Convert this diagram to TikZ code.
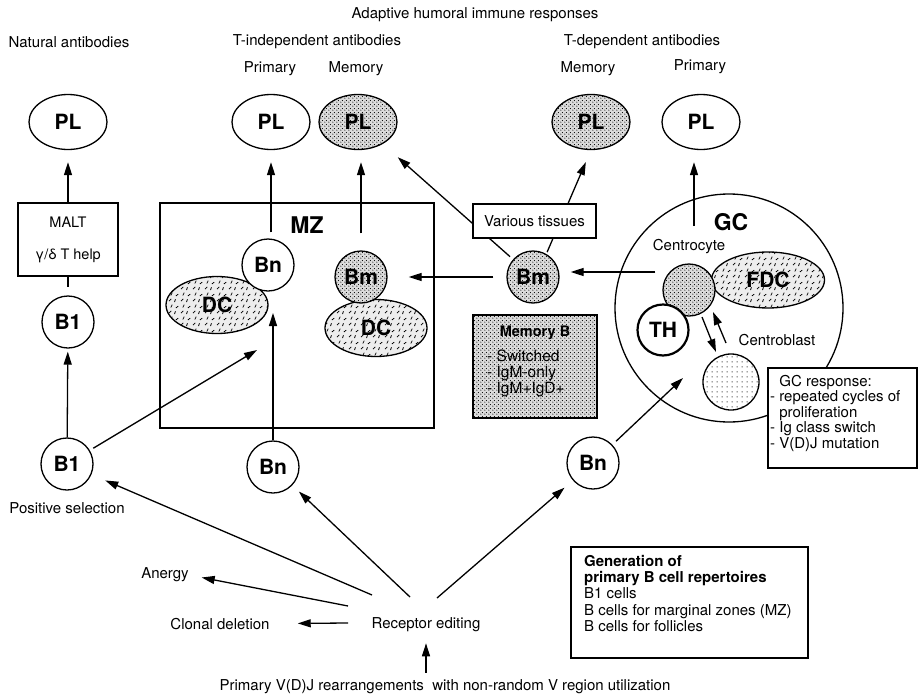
\documentclass[tikz,border=0pt]{standalone}
\usepackage{fontspec}
\setmainfont{TeX Gyre Heros}
\usetikzlibrary{arrows.meta,shapes.geometric,patterns,calc}
\pgfdeclarepatternformonly{stip}{\pgfqpoint{0pt}{0pt}}{\pgfqpoint{4pt}{4pt}}{\pgfqpoint{4pt}{4pt}}{%
  \pgfpathcircle{\pgfqpoint{1pt}{1pt}}{0.65pt}%
  \pgfpathcircle{\pgfqpoint{3pt}{3pt}}{0.65pt}%
  \pgfusepath{fill}}
\pgfdeclarepatternformonly{sparse}{\pgfqpoint{0pt}{0pt}}{\pgfqpoint{5pt}{5pt}}{\pgfqpoint{5pt}{5pt}}{%
  \pgfpathcircle{\pgfqpoint{2.5pt}{2.5pt}}{0.65pt}%
  \pgfusepath{fill}}
\pgfdeclarepatternformonly{dcmarks}{\pgfqpoint{0pt}{0pt}}{\pgfqpoint{12pt}{12pt}}{\pgfqpoint{12pt}{12pt}}{%
  \pgfsetlinewidth{0.8pt}%
  \pgfpathmoveto{\pgfqpoint{1pt}{2pt}}\pgfpathlineto{\pgfqpoint{3.5pt}{4.5pt}}%
  \pgfpathmoveto{\pgfqpoint{7pt}{1pt}}\pgfpathlineto{\pgfqpoint{8pt}{4pt}}%
  \pgfpathmoveto{\pgfqpoint{3pt}{8pt}}\pgfpathlineto{\pgfqpoint{4.5pt}{11pt}}%
  \pgfpathmoveto{\pgfqpoint{8.5pt}{7.5pt}}\pgfpathlineto{\pgfqpoint{11pt}{9.5pt}}%
  \pgfusepath{stroke}}
\begin{document}
\begin{tikzpicture}[x=1pt,y=-1pt,
  lbl/.style={inner sep=0, font=\fontsize{15}{17}\selectfont},
  bigbold/.style={inner sep=0, font=\bfseries\fontsize{23}{23}\selectfont},
  cell/.style={circle, draw, line width=1.3pt, minimum size=52, inner sep=0, font=\bfseries\fontsize{21}{21}\selectfont},
  plell/.style={ellipse, draw, line width=1.3pt, minimum width=78, minimum height=55, inner sep=0, font=\bfseries\fontsize{21}{21}\selectfont},
  shade/.style={preaction={fill=gray!28}, pattern=stip},
  white/.style={fill=white},
  dcell/.style={ellipse, draw, line width=1.3pt, minimum width=102, minimum height=57, inner sep=0, preaction={fill=gray!14}, pattern=dcmarks, font=\bfseries\fontsize{21}{21}\selectfont},
  boxed/.style={draw, line width=1.3pt, inner sep=0},
  ln/.style={line width=1.3pt},
  arr/.style={line width=1.3pt, -{Triangle[length=13pt,width=8pt]}}]
\useasboundingbox (0,0) rectangle (918,699);
\fill[white] (0,0) rectangle (918,699);

% headings
\node[lbl] (title) at (475,15) {Adaptive humoral immune responses};
\node[lbl] (hnat) at (69,42) {Natural antibodies};
\node[lbl] (hti) at (317,42) {T-independent antibodies};
\node[lbl] (htd) at (642,42) {T-dependent antibodies};
\node[lbl] (htip) at (270,69) {Primary};
\node[lbl] (htim) at (356,69) {Memory};
\node[lbl] (htdm) at (588,69) {Memory};
\node[lbl] (htdp) at (700,67) {Primary};

% plasma cells
\node[plell] (plnat) at (68,122) {PL};
\node[plell] (pltp) at (271,122) {PL};
\node[plell, shade] (pltm) at (358,122) {PL};
\node[plell, shade] (pldm) at (591,122) {PL};
\node[plell] (pldp) at (701,122) {PL};

% natural branch
\node[boxed, minimum width=100, minimum height=73, align=center, font=\fontsize{14.5}{17}\selectfont] (malt) at (68,239.5) {MALT\\[15pt]γ/δ T help};
\node[cell] (b1u) at (68,322) {B1};
\node[cell] (b1l) at (67,464) {B1};
\node[lbl] (possel) at (67,508) {Positive selection};

% MZ
\node[boxed, minimum width=274, minimum height=225] (mz) at (297,315.5) {};
\node[bigbold] (mzlbl) at (307,225) {MZ};
\node[dcell] (dc1) at (217,305) {DC};
\node[dcell] (dc2) at (376,328) {DC};
\node[cell, white] (bnmz) at (268,265) {Bn};
\node[cell, shade] (bmmz) at (361,277) {Bm};
\coordinate (mzin1) at (257,350);
\coordinate (mzin2) at (273,313);

% middle
\node[cell, shade] (bmm) at (533,277) {Bm};
\node[boxed, minimum width=124, minimum height=103, shade] (memb) at (535,366.5) {};
\node[inner sep=0, font=\bfseries\fontsize{14.5}{16}\selectfont] (membt) at (535,333) {Memory B};
\node[inner sep=0, anchor=north west, align=left, font=\fontsize{15.5}{16}\selectfont] (membl) at (487,350) {- Switched\\- IgM-only\\- IgM+IgD+};

% GC
\node[circle, draw, line width=1.3pt, minimum size=228, inner sep=0] (gc) at (729,308) {};
\node[bigbold] (gclbl) at (731,222) {GC};
\node[lbl] (ccl) at (689,247) {Centrocyte};
\node[dcell, minimum width=113, minimum height=56] (fdc) at (768,280) {FDC};
\node[cell, shade] (cc) at (689,290) {};
\node[cell, line width=2.2pt, minimum size=51, white] (th) at (663,330) {TH};
\node[circle, draw, line width=1.3pt, minimum size=56, inner sep=0, pattern=sparse] (cb) at (731,382) {};
\node[lbl] (cbl) at (777,340) {Centroblast};
\coordinate (gcsrc) at (694,226);
\coordinate (gcin) at (683,378);

\node[cell] (bnr) at (593,463) {Bn};
\node[cell] (bnl) at (273,467) {Bn};

% bottom
\node[lbl] (re) at (426,625) {Receptor editing};
\node[lbl] (anergy) at (165,575) {Anergy};
\node[lbl] (clonal) at (220,624) {Clonal deletion};
\node[lbl] (vdj) at (445,687) {Primary V(D)J rearrangements\ \ with non-random V region utilization};

\node[boxed, minimum width=237, minimum height=111] (gen) at (689.5,602.5) {};
\node[inner sep=0, anchor=north west, align=left, font=\fontsize{15}{16.3}\selectfont] (gent) at (584,555) {\textbf{Generation of}\\\textbf{primary B cell repertoires}\\B1 cells\\B cells for marginal zones (MZ)\\B cells for follicles};

% connectors
\draw[arr, shorten >=12] (malt) -- (plnat);
\draw[ln, shorten >=8] (malt) -- (b1u);
\draw[arr, shorten >=3] (b1l) -- (b1u);
\draw[arr, shorten <=4] (b1l) -- (mzin1);
\draw[arr] (bnl) -- (mzin2);
\draw[arr, shorten <=6, shorten >=12] (pltp.south |- bnmz.north) -- (pltp.south);
\draw[arr, shorten <=17, shorten >=12] (bmmz.north) -- (bmmz.north |- pltm.south);
\draw[arr, shorten <=13, shorten >=21] (bmm) -- (bmmz);
\draw[arr, shorten <=4, shorten >=20] (bmm) -- (pltm);
\draw[arr, shorten <=2, shorten >=13] (bmm.60) -- (pldm.south);
\draw[arr, shorten >=12] (gcsrc) -- (gcsrc |- pldp.south);
\draw[arr, shorten <=7, shorten >=11] ([yshift=5]cc.west |- bmm.east) -- ([yshift=5]bmm.east);
\draw[arr] ([shift={(13,27)}]cc.center) -- ([shift={(-15,-30)}]cb.center);
\draw[arr] ([shift={(-5,-39)}]cb.center) -- ([shift={(24,22)}]cc.center);
\draw[arr, shorten <=5] (bnr) -- (gcin);

\draw[arr, shorten >=15] ([shift={(-54,-30)}]re.center) -- (b1l);
\draw[arr, shorten >=9] ([shift={(-16,-28)}]re.center) -- (bnl);
\draw[arr, shorten >=11] ([shift={(11,-27)}]re.center) -- (bnr);
\draw[arr, shorten >=13] ([shift={(-78,-19)}]re.center) -- (anergy.east);
\draw[arr, shorten >=28] ([shift={(-78,-2)}]re.center) -- (clonal);
\draw[arr, shorten <=7, shorten >=11] (vdj.north -| re.south) -- (re.south);

% boxes on top of lines
\node[boxed, white, minimum width=123, minimum height=34, font=\fontsize{15}{17}\selectfont] (vt) at (534.5,221) {Various tissues};
\node[boxed, white, minimum width=149, minimum height=100] (gcr) at (842.5,418) {};
\node[inner sep=0, anchor=north west, align=left, font=\fontsize{15}{15.5}\selectfont] (gcrt) at (770,375) {\phantom{- }GC response:\\- repeated cycles of\\\phantom{- }proliferation\\- Ig class switch\\- V(D)J mutation};
\end{tikzpicture}
\end{document}
